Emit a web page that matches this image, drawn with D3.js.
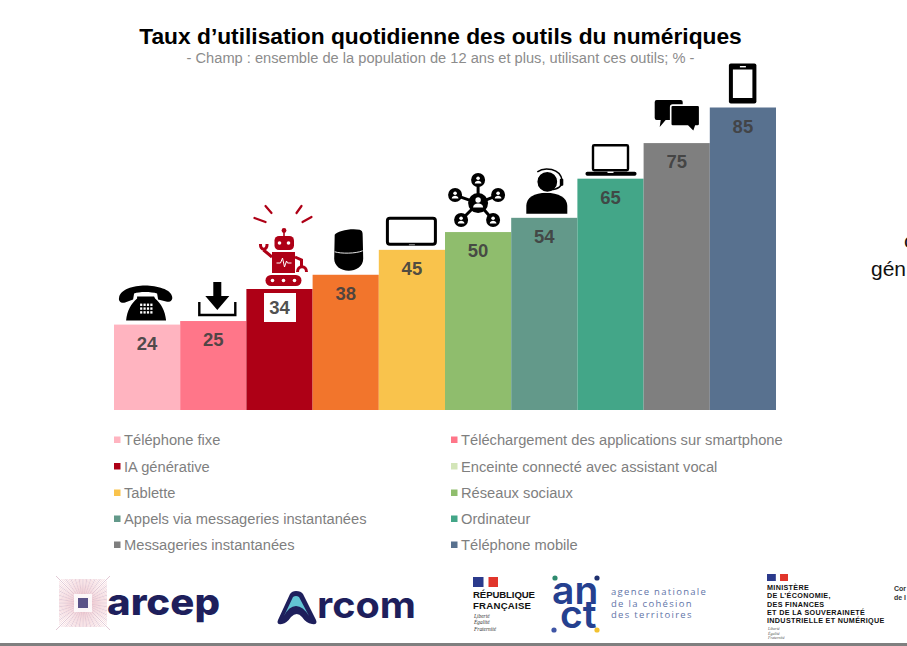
<!DOCTYPE html>
<html>
<head>
<meta charset="utf-8">
<script src="https://cdnjs.cloudflare.com/ajax/libs/d3/7.8.5/d3.min.js"></script>
<style>
  html, body { margin:0; padding:0; background:#fff; overflow:hidden; }
  text { font-family:"Liberation Sans", Arial, sans-serif; }
</style>
</head>
<body>
<div id="chart"></div>
<script>
var title = "Taux d’utilisation quotidienne des outils du numériques";
var subtitle = "- Champ : ensemble de la population de 12 ans et plus, utilisant ces outils; % -";

// bars, left to right
var tools = ["fixe","download","robot","speaker","tablet","network","headset","laptop","bubbles","mobile"];
var rates = [24,25,34,38,45,50,54,65,75,85];
var barColors = ["#ffb4c0","#ff7689","#ae0016","#f2752c","#f9c34c","#8fbd6d","#63998a","#43a688","#7f7f7f","#58718f"];

// legend reads row by row over two columns
var legendLabels = ["Téléphone fixe","Téléchargement des applications sur smartphone","IA générative","Enceinte connecté avec assistant vocal","Tablette","Réseaux sociaux","Appels via messageries instantanées","Ordinateur","Messageries instantanées","Téléphone mobile"];
var legendColors = ["#ffb4c0","#ff7689","#ae0016","#d3e5b8","#f9c34c","#8fbd6d","#63998a","#43a688","#7f7f7f","#58718f"];
var legendRows = [440,466.5,493,519,545];

var width = 907, height = 646;
var svg = d3.select("#chart").append("svg")
    .attr("width", width)
    .attr("height", height)
    .style("display","block");

svg.append("text").attr("x",440.5).attr("y",44)
    .attr("text-anchor","middle").style("font-size","22.75px").style("font-weight","700")
    .attr("fill","#000").text(title);
svg.append("text").attr("x",440.5).attr("y",63)
    .attr("text-anchor","middle").style("font-size","14.65px").attr("fill","#8c8c8c").text(subtitle);

var x = d3.scaleBand().domain(tools).range([114,776]).padding(0);
var y = d3.scaleLinear().domain([0,85]).range([410,107.5]);

svg.selectAll("rect.bar").data(tools).join("rect")
    .attr("class","bar")
    .attr("x", d => x(d))
    .attr("y", (d,i) => y(rates[i]))
    .attr("width", x.bandwidth())
    .attr("height", (d,i) => y(0)-y(rates[i]))
    .attr("fill", (d,i) => barColors[i]);

// white box behind the IA value
svg.append("rect")
    .attr("x", x("robot")+x.bandwidth()/2-15.5).attr("y", y(34)+4)
    .attr("width",32).attr("height",29).attr("fill","#fff");

svg.selectAll("text.val").data(rates).join("text")
    .attr("class","val")
    .attr("x", (d,i) => x(tools[i])+x.bandwidth()/2)
    .attr("y", d => y(d)+25)
    .attr("text-anchor","middle")
    .style("font-size","18.5px").style("font-weight","700")
    .attr("fill","#404040").attr("fill-opacity",0.92)
    .text(d => d);

// pictograms, drawn around (bar centre, bar top)
var icons = {
  fixe: function(g){
    g.append("path").attr("d","M-28,-27 C-27,-35 -14,-39 -2,-39 C10,-39 24,-35 25,-28 C26,-24 23,-22 19,-23 L11,-25 L10,-31 C4,-33 -8,-33 -13,-31 L-14,-25 L-22,-22 C-26,-21 -29,-23 -28,-27 Z");
    g.append("path").attr("d","M-10,-28 L7,-28 L8,-26 C14,-21 18,-14 19,-4 L-21,-4 C-20,-14 -16,-21 -10,-26 Z");
    g.selectAll("rect.key").data(d3.range(12)).join("rect")
      .attr("class","key")
      .attr("x", d => -7+(d%4)*3.4).attr("y", d => -21+Math.floor(d/4)*3.8)
      .attr("width",2.2).attr("height",2.4).attr("fill","#fff");
  },
  download: function(g){
    g.append("path").attr("fill","none").attr("stroke","#000").attr("stroke-width",2.4)
      .attr("d","M-14,-19 L-14,-6 L22,-6 L22,-19");
    g.append("path").attr("d","M0,-39 L8,-39 L8,-25 L16,-25 L4,-11 L-8,-25 L0,-25 Z");
  },
  robot: function(g){
    g.attr("fill","#ae0016").attr("stroke","none");
    // sparks
    [[-14,-83,-8,-76],[-25,-71,-14,-67],[22,-83,17,-76],[32,-72,23,-67]].forEach(function(s){
      g.append("line").attr("x1",s[0]).attr("y1",s[1]).attr("x2",s[2]).attr("y2",s[3])
        .attr("stroke","#ae0016").attr("stroke-width",2.2).attr("stroke-linecap","round");
    });
    g.append("rect").attr("x",-14).attr("y",-14).attr("width",36).attr("height",11).attr("rx",5.5);
    d3.range(3).forEach(function(i){
      g.append("circle").attr("cx",-7+i*11).attr("cy",-8.5).attr("r",1.8).attr("fill","#fff");
    });
    g.append("rect").attr("x",-7.5).attr("y",-37).attr("width",23).attr("height",21);
    g.append("path").attr("fill","none").attr("stroke","#fff").attr("stroke-width",1)
      .attr("d","M-3,-26 L1,-26 L3,-31 L5,-22 L7,-28 L8,-26 L12,-26");
    g.append("rect").attr("x",-5).attr("y",-53).attr("width",19.5).attr("height",14).attr("rx",4.5);
    g.append("circle").attr("cx",0).attr("cy",-46).attr("r",1.8).attr("fill","#fff");
    g.append("circle").attr("cx",9).attr("cy",-46).attr("r",1.8).attr("fill","#fff");
    g.append("line").attr("x1",4.5).attr("y1",-53).attr("x2",4.5).attr("y2",-58).attr("stroke","#ae0016").attr("stroke-width",1.6);
    g.append("circle").attr("cx",4.5).attr("cy",-58.5).attr("r",2.4);
    g.append("path").attr("fill","none").attr("stroke","#ae0016").attr("stroke-width",3)
      .attr("d","M-7.5,-32 L-16,-39 M-19,-45 C-19.5,-38 -12,-38 -12.5,-45");
    g.append("path").attr("fill","none").attr("stroke","#ae0016").attr("stroke-width",3)
      .attr("d","M15.5,-32 L22,-29 L22,-21 M18,-17 C18,-24 27,-24 27,-17");
  },
  speaker: function(g){
    g.append("path").attr("d","M-11,-40 C-9,-44 6,-47 14,-45 C17,-44 17,-42 17,-38 L17.5,-16 C17.5,-8 10,-4 3,-4 C-5,-4 -11.5,-9 -11.5,-16 Z");
    g.append("path").attr("fill","none").attr("stroke","#fff").attr("stroke-width",0.9)
      .attr("d","M-11,-23 C-5,-21 10,-21 17,-24");
  },
  tablet: function(g){
    g.append("rect").attr("x",-24.5).attr("y",-31.5).attr("width",48).attr("height",26).attr("rx",2.5)
      .attr("fill","#fff").attr("stroke","#000").attr("stroke-width",3);
    g.append("rect").attr("x",-3).attr("y",-5.7).attr("width",6).attr("height",1.2).attr("fill","#888");
  },
  network: function(g){
    var hub = [0,-29];
    var nodes = [[0,-52],[-23,-37],[20,-37],[-17,-12],[15,-12]];
    nodes.forEach(function(n){
      g.append("line").attr("x1",hub[0]).attr("y1",hub[1]).attr("x2",n[0]).attr("y2",n[1])
        .attr("stroke","#000").attr("stroke-width",3);
    });
    nodes.forEach(function(n){
      g.append("circle").attr("cx",n[0]).attr("cy",n[1]).attr("r",7);
      g.append("circle").attr("cx",n[0]).attr("cy",n[1]-1.8).attr("r",1.8).attr("fill","#fff");
      g.append("path").attr("fill","#fff").attr("d","M"+(n[0]-3.4)+","+(n[1]+3.4)+" C"+(n[0]-3)+","+(n[1]-0.2)+" "+(n[0]+3)+","+(n[1]-0.2)+" "+(n[0]+3.4)+","+(n[1]+3.4)+" Z");
    });
    g.append("circle").attr("cx",hub[0]).attr("cy",hub[1]).attr("r",10);
    g.append("circle").attr("cx",hub[0]).attr("cy",hub[1]-3).attr("r",2.7).attr("fill","#fff");
    g.append("path").attr("fill","#fff").attr("d","M-5,4.5 C-5,-1 5,-1 5,4.5 Z").attr("transform","translate(0,-29)");
  },
  headset: function(g){
    g.append("path").attr("d","M-18,-4 L-18,-12 C-18,-20 -10,-25 2,-25 C14,-25 23,-20 23,-12 L23,-4 Z");
    g.append("circle").attr("cx",3).attr("cy",-36).attr("r",10.5).attr("stroke","#fff").attr("stroke-width",1.2);
    g.append("path").attr("fill","none").attr("stroke","#000").attr("stroke-width",1.5)
      .attr("d","M-7,-46 C0,-51 16,-50 18,-37 C18,-32 14,-28 6,-28");
    g.append("rect").attr("x",15.5).attr("y",-39).attr("width",3.5).attr("height",7).attr("rx",1);
  },
  laptop: function(g){
    g.append("rect").attr("x",-17.5).attr("y",-33.5).attr("width",35).attr("height",25).attr("rx",1.2)
      .attr("fill","#fff").attr("stroke","#000").attr("stroke-width",2.4);
    g.append("rect").attr("x",-25).attr("y",-7).attr("width",51).attr("height",4).attr("rx",1.8);
    g.append("rect").attr("x",-3).attr("y",-7).attr("width",6).attr("height",1.3).attr("fill","#fff");
  },
  bubbles: function(g){
    g.append("path").attr("d","M-20,-43 L4,-43 Q6,-43 6,-41 L6,-25 Q6,-23 4,-23 L-11,-23 L-17,-16 L-16,-23 L-20,-23 Q-22,-23 -22,-25 L-22,-41 Q-22,-43 -20,-43 Z");
    g.append("path").attr("stroke","#fff").attr("stroke-width",1.6)
      .attr("d","M-4,-38 L21,-38 Q23,-38 23,-36 L23,-19 Q23,-17 21,-17 L19,-17 L17,-11 L11,-17 L-4,-17 Q-6,-17 -6,-19 L-6,-36 Q-6,-38 -4,-38 Z");
  },
  mobile: function(g){
    g.append("rect").attr("x",-14).attr("y",-44).attr("width",27.5).attr("height",40).attr("rx",2);
    g.append("rect").attr("x",-10).attr("y",-38).attr("width",19.5).attr("height",28.5).attr("fill","#fff");
    g.append("rect").attr("x",-3).attr("y",-41.5).attr("width",6).attr("height",1.4).attr("fill","#fff");
  }
};
tools.forEach(function(t,i){
  var g = svg.append("g").attr("class","icon")
    .attr("transform","translate("+(x(t)+x.bandwidth()/2)+","+y(rates[i])+")");
  icons[t](g);
});

// legend
var lx = d3.scalePoint().domain([0,1]).range([114,451]);
var legend = svg.selectAll("g.leg").data(legendLabels).join("g")
    .attr("class","leg")
    .attr("transform",(d,i) => "translate("+lx(i%2)+","+legendRows[Math.floor(i/2)]+")");
legend.append("rect").attr("x",0).attr("y",-3.5).attr("width",6.5).attr("height",6.5)
    .attr("fill",(d,i) => legendColors[i]);
legend.append("text").attr("x",10).attr("y",5)
    .style("font-size","14.7px").attr("fill","#7f7f7f").text(d => d);

// text cut off by the right edge of the capture
svg.append("text").attr("x",904).attr("y",248).style("font-size","21px").attr("fill","#111").text("c");
svg.append("text").attr("x",871).attr("y",276).style("font-size","21px").attr("fill","#111").text("gén");

// footer logos
var navy = "#1e1f5c";
var arcep = svg.append("g").attr("class","logo-arcep");
d3.range(0,360,3).forEach(function(a){
  var t = a*Math.PI/180;
  var r = (a%90==45 ? 27 : 24)/Math.max(Math.abs(Math.cos(t)),Math.abs(Math.sin(t)));
  arcep.append("line").attr("x1",83).attr("y1",603)
    .attr("x2",83+r*Math.cos(t)).attr("y2",603+r*Math.sin(t))
    .attr("stroke",a%9 ? "#f0c4cb" : "#cfa6bb").attr("stroke-width",0.6);
});
arcep.append("rect").attr("x",74).attr("y",594).attr("width",18).attr("height",18).attr("fill","#fff").attr("opacity",0.85);
arcep.append("rect").attr("x",78).attr("y",598).attr("width",10).attr("height",10).attr("fill","#5b5388");
arcep.append("text").attr("x",107).attr("y",615).attr("textLength",113).attr("lengthAdjust","spacingAndGlyphs")
    .style("font-family","Inter").style("font-weight","800").style("font-size","37px")
    .attr("fill",navy).text("arcep");

var arcom = svg.append("g").attr("class","logo-arcom");
arcom.append("path").attr("fill",navy).attr("d","M278,620 L290,594 Q292,591 296,591 Q301,591 303,594 L316,620 Q318,625 312,624 Q306,623 302,617 Q297,611 291,617 Q287,623 282,624 Q276,625 278,620 Z");
arcom.append("path").attr("fill","#62c3d3").attr("d","M284,616 L293,597 Q296,595 299,597 L309,616 Q303,606 296,606 Q289,606 284,616 Z");
arcom.append("text").attr("x",317).attr("y",618).attr("textLength",99).attr("lengthAdjust","spacingAndGlyphs")
    .style("font-family","Inter").style("font-weight","700").style("font-size","37px")
    .attr("fill",navy).text("rcom");

function flag(gx, gy, w, h){
  svg.append("rect").attr("x",gx).attr("y",gy).attr("width",w*0.42).attr("height",h).attr("fill","#2b3a8c");
  svg.append("rect").attr("x",gx+w*0.62).attr("y",gy).attr("width",w*0.38).attr("height",h).attr("fill","#e1352b");
}
function small(tx, ty, s, size, opts){
  opts = opts || {};
  return svg.append("text").attr("x",tx).attr("y",ty)
    .style("font-family",opts.family || "'Liberation Sans'")
    .style("font-weight",opts.weight || "700")
    .style("font-style",opts.italic ? "italic" : "normal")
    .style("font-size",size+"px")
    .style("letter-spacing",opts.spacing || "0")
    .attr("fill",opts.fill || "#111").text(s);
}

flag(473,577,25,10);
small(473,598,"RÉPUBLIQUE",9.6).attr("textLength",62);
small(473,609,"FRANÇAISE",9.6).attr("textLength",58);
["Liberté","Égalité","Fraternité"].forEach(function(s,i){
  small(474,618+i*6.3,s,5.4,{family:"'Liberation Serif'",weight:"400",italic:true,fill:"#333"});
});

small(552,604,"an",39,{family:"Inter",weight:"600",fill:"#25408f"});
small(560,628,"ct",39,{family:"Inter",weight:"600",fill:"#25408f"});
[[555,578,"#2e8a6e"],[597,578,"#1e2f6e"],[554,630,"#3f55a5"],[597,630,"#f2c230"]].forEach(function(p){
  svg.append("circle").attr("cx",p[0]).attr("cy",p[1]).attr("r",2.6).attr("fill",p[2]);
});
["agence nationale","de la cohésion","des territoires"].forEach(function(s,i){
  small(611,595+i*11.5,s,9.5,{family:"'Open Sans'",weight:"400",fill:"#5f74a8",spacing:"1.3px"});
});

flag(767,574,21,7);
["MINISTÈRE","DE L’ÉCONOMIE,","DES FINANCES","ET DE LA SOUVERAINETÉ","INDUSTRIELLE ET NUMÉRIQUE"].forEach(function(s,i){
  small(767,590+i*8.3,s,7.2,{spacing:"0.33px"});
});
["Liberté","Égalité","Fraternité"].forEach(function(s,i){
  small(768,630+i*4.6,s,4,{family:"'Liberation Serif'",weight:"400",italic:true,fill:"#555"});
});
small(894,591,"Cor",7,{fill:"#333"});
small(894,600,"de l",7,{fill:"#333"});

// grey strip at the bottom of the capture
svg.append("rect").attr("x",0).attr("y",643).attr("width",width).attr("height",3).attr("fill","#7f7f7f");
</script>
</body>
</html>
